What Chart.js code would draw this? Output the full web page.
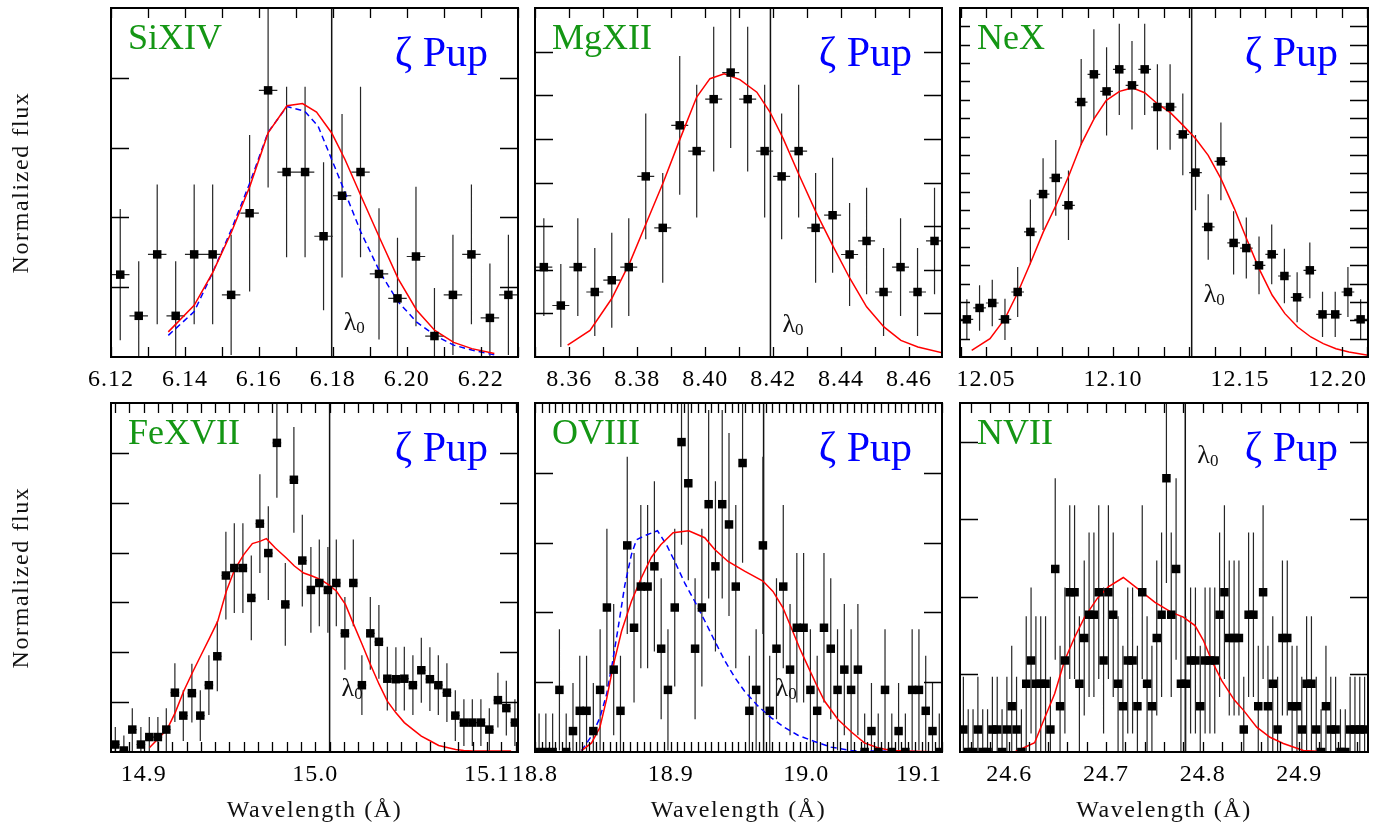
<!DOCTYPE html>
<html>
<head>
<meta charset="utf-8">
<title>zeta Pup line profiles</title>
<script src="https://cdn.jsdelivr.net/npm/chart.js@4.4.1/dist/chart.umd.min.js"></script>
<style>
  html, body { margin: 0; padding: 0; background: #fff; }
  #stage { position: relative; width: 1376px; height: 823px; overflow: hidden; }
  #stage canvas { position: absolute; left: 0; top: 0; }
</style>
</head>
<body>
<div id="stage"></div>
<script>
// Si XIV
const siWave = [6.1225, 6.1275, 6.1325, 6.1375, 6.1425, 6.1475, 6.1525, 6.1575, 6.1625, 6.1675, 6.1725,
  6.1775, 6.1825, 6.1875, 6.1925, 6.1975, 6.2025, 6.2075, 6.2125, 6.2175, 6.2225, 6.2275];
const siFlux = [1.18, 0.59, 1.47, 0.59, 1.47, 1.47, 0.89, 2.06, 3.82, 2.65, 2.65,
  1.73, 2.31, 2.65, 1.19, 0.84, 1.44, 0.30, 0.89, 1.47, 0.56, 0.89];
const siErr = [0.94, 0.78, 1.00, 0.78, 1.00, 1.00, 0.86, 1.12, 1.39, 1.22, 1.22,
  1.06, 1.17, 1.22, 0.94, 0.87, 1.00, 0.69, 0.86, 1.00, 0.78, 0.86];
const siModelWave = [6.1355, 6.1425, 6.1475, 6.1526, 6.1576, 6.1625, 6.1676, 6.1718, 6.1756, 6.1797,
  6.1833, 6.1876, 6.1928, 6.1977, 6.2027, 6.2076, 6.2127, 6.2176, 6.2237];
const siModelFlux = [0.36, 0.74, 1.21, 1.79, 2.45, 3.21, 3.60, 3.63, 3.51, 3.21,
  2.83, 2.31, 1.69, 1.12, 0.67, 0.38, 0.21, 0.12, 0.05];
const siAltWave = [6.1355, 6.1425, 6.1475, 6.1526, 6.1576, 6.1625, 6.1676, 6.1724, 6.1760, 6.1797,
  6.1833, 6.1876, 6.1928, 6.1977, 6.2027, 6.2076, 6.2127, 6.2176, 6.2237];
const siAltFlux = [0.31, 0.65, 1.21, 1.83, 2.50, 3.22, 3.59, 3.52, 3.31, 2.83,
  2.36, 1.79, 1.21, 0.79, 0.50, 0.31, 0.17, 0.10, 0.03];
const siTicks = ['6.12', '6.14', '6.16', '6.18', '6.20', '6.22'];

// Mg XII
const mgWave = [8.3525, 8.3575, 8.3625, 8.3675, 8.3725, 8.3775, 8.3825, 8.3875, 8.3925, 8.3975, 8.4025, 8.4075,
  8.4125, 8.4175, 8.4225, 8.4275, 8.4325, 8.4375, 8.4425, 8.4475, 8.4525, 8.4575, 8.4625, 8.4675];
const mgFlux = [2.06, 1.18, 2.06, 1.49, 1.76, 2.06, 4.14, 2.96, 5.31, 4.72, 5.91, 6.52,
  5.91, 4.72, 4.14, 4.72, 2.96, 3.25, 2.35, 2.66, 1.49, 2.06, 1.49, 2.66];
const mgErr = [1.12, 0.95, 1.12, 1.01, 1.09, 1.12, 1.44, 1.26, 1.59, 1.52, 1.66, 1.73,
  1.66, 1.52, 1.44, 1.52, 1.26, 1.32, 1.18, 1.22, 1.01, 1.12, 1.01, 1.22];
const mgModelWave = [8.3595, 8.3661, 8.3725, 8.3779, 8.3826, 8.3877, 8.3926, 8.3975, 8.4014, 8.4056, 8.4102, 8.4152,
  8.4191, 8.4230, 8.4277, 8.4326, 8.4375, 8.4426, 8.4475, 8.4526, 8.4576, 8.4626, 8.4701];
const mgModelFlux = [0.27, 0.61, 1.34, 2.18, 3.06, 4.01, 5.00, 5.96, 6.38, 6.49, 6.36, 6.07,
  5.61, 5.00, 4.16, 3.32, 2.56, 1.80, 1.15, 0.69, 0.38, 0.23, 0.09];
const mgTicks = ['8.36', '8.38', '8.40', '8.42', '8.44', '8.46'];

// Ne X
const neWave = [12.0425, 12.0475, 12.0525, 12.0575, 12.0625, 12.0675, 12.0725, 12.0775, 12.0825, 12.0875, 12.0925,
  12.0975, 12.1025, 12.1075, 12.1125, 12.1175, 12.1225, 12.1275, 12.1325, 12.1375, 12.1425, 12.1475,
  12.1525, 12.1575, 12.1625, 12.1675, 12.1725, 12.1775, 12.1825, 12.1875, 12.1925, 12.1975];
const neFlux = [2.05, 2.67, 2.94, 2.05, 3.54, 6.81, 8.87, 9.75, 8.26, 13.88, 15.39,
  14.46, 15.66, 14.79, 15.66, 13.61, 13.61, 12.12, 10.04, 7.08, 10.65, 6.21,
  5.93, 4.99, 5.59, 4.41, 3.25, 4.72, 2.32, 2.32, 3.54, 2.05];
const neErr = [1.09, 1.24, 1.27, 1.12, 1.36, 1.76, 1.95, 2.06, 1.89, 2.34, 2.45,
  2.40, 2.48, 2.41, 2.48, 2.33, 2.33, 2.22, 2.05, 1.78, 2.11, 1.72,
  1.66, 1.57, 1.63, 1.48, 1.36, 1.52, 1.23, 1.23, 1.36, 1.09];
const neModelWave = [12.0444, 12.0516, 12.0575, 12.0625, 12.0677, 12.0726, 12.0776, 12.0827, 12.0876, 12.0926,
  12.0974, 12.1026, 12.1076, 12.1125, 12.1175, 12.1226, 12.1276, 12.1325, 12.1375, 12.1425, 12.1478,
  12.1526, 12.1575, 12.1627, 12.1677, 12.1727, 12.1779, 12.1828, 12.1878, 12.1929, 12.2005];
const neModelFlux = [0.36, 1.00, 2.09, 3.50, 5.17, 6.81, 8.26, 9.89, 11.62, 12.98,
  13.97, 14.46, 14.65, 14.39, 13.79, 13.30, 12.61, 11.89, 10.98, 9.71, 8.08,
  6.44, 4.81, 3.36, 2.36, 1.63, 1.09, 0.73, 0.45, 0.27, 0.09];
const neTicks = ['12.05', '12.10', '12.15', '12.20'];

// Fe XVII
const feWave = [14.8835, 14.8885, 14.8934, 14.8984, 14.9033, 14.9083, 14.9132, 14.9182, 14.9231, 14.9281,
  14.9330, 14.9380, 14.9429, 14.9479, 14.9528, 14.9578, 14.9627, 14.9677, 14.9726, 14.9776,
  14.9825, 14.9875, 14.9924, 14.9974, 15.0023, 15.0073, 15.0122, 15.0172, 15.0221, 15.0271,
  15.0320, 15.0370, 15.0419, 15.0469, 15.0518, 15.0568, 15.0617, 15.0667, 15.0716, 15.0766,
  15.0815, 15.0865, 15.0914, 15.0964, 15.1013, 15.1063, 15.1112, 15.1162];
const feFlux = [0.15, 0.03, 0.45, 0.15, 0.30, 0.30, 0.45, 1.19, 0.73, 1.18,
  0.73, 1.34, 1.92, 3.54, 3.69, 3.69, 3.09, 4.58, 3.99, 6.20,
  2.96, 5.46, 3.84, 3.25, 3.39, 3.25, 3.39, 2.38, 3.39, 1.34,
  2.38, 2.21, 1.47, 1.46, 1.47, 1.34, 1.64, 1.46, 1.34, 1.19,
  0.73, 0.59, 0.59, 0.59, 0.45, 1.04, 0.88, 0.59];
const feErr = [0.35, 0.30, 0.43, 0.35, 0.40, 0.40, 0.43, 0.59, 0.51, 0.59,
  0.51, 0.60, 0.70, 0.88, 0.90, 0.90, 0.85, 0.99, 0.94, 1.10,
  0.83, 1.06, 0.92, 0.86, 0.87, 0.86, 0.87, 0.73, 0.87, 0.60,
  0.73, 0.74, 0.64, 0.64, 0.64, 0.60, 0.65, 0.64, 0.60, 0.59,
  0.51, 0.47, 0.47, 0.47, 0.43, 0.55, 0.55, 0.47];
const feModelWave = [14.9035, 14.9136, 14.9184, 14.9233, 14.9285, 14.9334, 14.9383, 14.9431, 14.9482, 14.9530,
  14.9583, 14.9633, 14.9680, 14.9715, 14.9767, 14.9831, 14.9878, 14.9932, 14.9981, 15.0029,
  15.0074, 15.0122, 15.0175, 15.0223, 15.0272, 15.0320, 15.0371, 15.0419, 15.0468, 15.0518,
  15.0569, 15.0617, 15.0670, 15.0718, 15.0767, 15.0817, 15.0864, 15.0918, 15.1140];
const feModelFlux = [0.09, 0.45, 0.79, 1.22, 1.60, 1.94, 2.28, 2.62, 3.23, 3.66,
  3.96, 4.18, 4.23, 4.28, 4.09, 3.89, 3.73, 3.59, 3.53, 3.46,
  3.36, 3.23, 2.96, 2.56, 2.16, 1.76, 1.36, 1.02, 0.79, 0.59,
  0.45, 0.32, 0.22, 0.13, 0.09, 0.05, 0.03, 0.02, 0.02];
const feTicks = ['14.9', '15.0', '15.1'];

// O VIII
const oWave = [18.803, 18.808, 18.813, 18.818, 18.823, 18.828, 18.833, 18.838, 18.843, 18.848,
  18.853, 18.858, 18.863, 18.868, 18.873, 18.878, 18.883, 18.888, 18.893, 18.898,
  18.903, 18.908, 18.913, 18.918, 18.923, 18.928, 18.933, 18.938, 18.943, 18.948,
  18.953, 18.958, 18.963, 18.968, 18.973, 18.978, 18.983, 18.988, 18.993, 18.998,
  19.003, 19.008, 19.013, 19.018, 19.023, 19.028, 19.033, 19.038, 19.043, 19.048,
  19.053, 19.058, 19.063, 19.068, 19.073, 19.078, 19.083, 19.088, 19.093, 19.098];
const oFlux = [0, 0, 0, 0.89, 0, 0.30, 0.59, 0.59, 0.30, 0.89,
  2.07, 1.18, 0.59, 2.96, 1.78, 2.37, 2.37, 2.66, 1.48, 0.89,
  2.07, 4.44, 3.85, 1.48, 2.07, 3.55, 2.66, 3.55, 3.26, 2.37,
  4.14, 0.59, 0.89, 2.96, 0.59, 1.48, 2.37, 1.18, 1.78, 1.78,
  0.89, 0.59, 1.78, 1.48, 0.89, 1.18, 0.89, 1.18, 0, 0.30,
  0, 0.89, 0, 0.30, 0, 0.89, 0.89, 0.59, 0.30, 0];
const oErr = [0.55, 0.55, 0.55, 0.87, 0.55, 0.69, 0.79, 0.79, 0.69, 0.87,
  1.13, 0.94, 0.79, 1.27, 1.07, 1.17, 1.17, 1.22, 1.01, 0.87,
  1.13, 1.47, 1.39, 1.01, 1.13, 1.35, 1.22, 1.35, 1.31, 1.17,
  1.43, 0.79, 0.87, 1.27, 0.79, 1.01, 1.17, 0.94, 1.07, 1.07,
  0.87, 0.79, 1.07, 1.01, 0.87, 0.94, 0.87, 0.94, 0.55, 0.69,
  0.55, 0.87, 0.55, 0.69, 0.55, 0.87, 0.87, 0.79, 0.69, 0.55];
const oModelWave = [18.8343, 18.8417, 18.8478, 18.8527, 18.8576, 18.8638, 18.8711, 18.8785, 18.8858, 18.8927,
  18.9018, 18.9133, 18.9251, 18.9325, 18.9423, 18.9545, 18.9680, 18.9754, 18.9827, 18.9889,
  18.9950, 19.0011, 19.0073, 19.0134, 19.0232, 19.0330, 19.0428, 19.0526, 19.0624, 19.0992];
const oModelFlux = [0.02, 0.13, 0.35, 0.75, 1.23, 1.73, 2.16, 2.50, 2.79, 2.97,
  3.14, 3.17, 3.07, 2.90, 2.73, 2.59, 2.45, 2.30, 2.07, 1.78,
  1.49, 1.23, 0.97, 0.73, 0.47, 0.29, 0.13, 0.06, 0.02, 0.00];
const oAltWave = [18.8343, 18.8417, 18.8478, 18.8527, 18.8569, 18.8613, 18.8662, 18.8711, 18.8748, 18.8809,
  18.8903, 18.8969, 18.9030, 18.9104, 18.9177, 18.9251, 18.9325, 18.9398, 18.9472, 18.9545,
  18.9643, 18.9742, 18.9840, 18.9938, 19.0060, 19.0183, 19.0330, 19.0992];
const oAltFlux = [0.02, 0.23, 0.49, 0.82, 1.26, 1.78, 2.39, 2.83, 3.04, 3.10,
  3.17, 2.97, 2.73, 2.42, 2.16, 1.88, 1.59, 1.31, 1.07, 0.87,
  0.66, 0.49, 0.35, 0.24, 0.15, 0.07, 0.02, 0.00];
const oTicks = ['18.8', '18.9', '19.0', '19.1'];

// N VII
const nWave = [24.5525, 24.5575, 24.5625, 24.5675, 24.5725, 24.5775, 24.5825, 24.5875, 24.5925, 24.5975,
  24.6025, 24.6075, 24.6125, 24.6175, 24.6225, 24.6275, 24.6325, 24.6375, 24.6425, 24.6475,
  24.6525, 24.6575, 24.6625, 24.6675, 24.6725, 24.6775, 24.6825, 24.6875, 24.6925, 24.6975,
  24.7025, 24.7075, 24.7125, 24.7175, 24.7225, 24.7275, 24.7325, 24.7375, 24.7425, 24.7475,
  24.7525, 24.7575, 24.7625, 24.7675, 24.7725, 24.7775, 24.7825, 24.7875, 24.7925, 24.7975,
  24.8025, 24.8075, 24.8125, 24.8175, 24.8225, 24.8275, 24.8325, 24.8375, 24.8425, 24.8475,
  24.8525, 24.8575, 24.8625, 24.8675, 24.8725, 24.8775, 24.8825, 24.8875, 24.8925, 24.8975,
  24.9025, 24.9075, 24.9125, 24.9175, 24.9225, 24.9275, 24.9325, 24.9375, 24.9425, 24.9475,
  24.9525, 24.9575, 24.9625, 24.9675];
const nFlux = [0.29, 0, 0, 0.29, 0, 0, 0.29, 0.29, 0, 0.29,
  0.59, 0.29, 0, 0.88, 1.18, 0.88, 0.88, 0.88, 0.29, 2.36,
  0.59, 1.18, 2.06, 2.06, 0.88, 1.47, 1.77, 1.77, 2.06, 1.18,
  2.06, 1.77, 0.88, 0.59, 1.18, 1.18, 0.59, 2.06, 0.88, 0.59,
  1.47, 1.77, 3.53, 1.77, 2.36, 0.88, 0.88, 1.18, 1.18, 0.59,
  1.18, 1.18, 1.18, 1.77, 2.06, 1.47, 1.47, 1.47, 0.29, 1.77,
  1.77, 0.59, 2.06, 0.59, 0.88, 0.29, 1.47, 1.47, 0.59, 0.59,
  0.29, 0.88, 0.88, 0.29, 0, 0.59, 0.29, 0.29, 0, 0,
  0.29, 0.29, 0.29, 0.29];
const nErr = [0.68, 0.55, 0.55, 0.68, 0.55, 0.55, 0.68, 0.68, 0.55, 0.68,
  0.78, 0.68, 0.55, 0.87, 0.94, 0.87, 0.87, 0.87, 0.68, 1.17,
  0.78, 0.94, 1.12, 1.12, 0.87, 1.00, 1.06, 1.06, 1.12, 0.94,
  1.12, 1.06, 0.87, 0.78, 0.94, 0.94, 0.78, 1.12, 0.87, 0.78,
  1.00, 1.06, 1.35, 1.06, 1.17, 0.87, 0.87, 0.94, 0.94, 0.78,
  0.94, 0.94, 0.94, 1.06, 1.12, 1.00, 1.00, 1.00, 0.68, 1.06,
  1.06, 0.78, 1.12, 0.78, 0.87, 0.68, 1.00, 1.00, 0.78, 0.78,
  0.68, 0.87, 0.87, 0.68, 0.55, 0.78, 0.68, 0.68, 0.55, 0.55,
  0.68, 0.68, 0.68, 0.68];
const nModelWave = [24.6055, 24.6262, 24.6359, 24.6469, 24.6572, 24.6676, 24.6779, 24.6910, 24.7024, 24.7179,
  24.7334, 24.7507, 24.7679, 24.7800, 24.7921, 24.8007, 24.8093, 24.8197, 24.8328, 24.8421,
  24.8559, 24.8697, 24.8834, 24.9041, 24.9317, 24.9610];
const nModelFlux = [0, 0.12, 0.42, 0.75, 1.18, 1.48, 1.74, 1.98, 2.13, 2.25,
  2.10, 1.93, 1.80, 1.74, 1.63, 1.44, 1.18, 0.92, 0.67, 0.54,
  0.32, 0.19, 0.11, 0.02, 0.00, 0.00];
const nTicks = ['24.6', '24.7', '24.8', '24.9'];

const ionNames = ['SiXIV', 'MgXII', 'NeX', 'FeXVII', 'OVIII', 'NVII'];
const restWave = [6.1797, 8.4192, 12.131, 15.0083, 18.9685, 24.782];
const starName = 'ζ Pup';

// frame boxes in page pixels, axis ranges, minor tick step and lambda0 label offset
const panels = [
  { box: [111, 8, 518, 357], xr: [6.12, 6.2301], yMax: 5, minor: 0.01, lamY: 322, yTickL: 18,
    wave: siWave, flux: siFlux, err: siErr, mw: siModelWave, mf: siModelFlux, aw: siAltWave, af: siAltFlux, ticks: siTicks },
  { box: [535, 8, 942, 357], xr: [8.3499, 8.4697], yMax: 8, minor: 0.01, lamY: 324, yTickL: 18,
    wave: mgWave, flux: mgFlux, err: mgErr, mw: mgModelWave, mf: mgModelFlux, ticks: mgTicks },
  { box: [960, 8, 1368, 357], xr: [12.0398, 12.2004], yMax: 19, minor: 0.01, lamY: 294, yTickL: 10,
    wave: neWave, flux: neFlux, err: neErr, mw: neModelWave, mf: neModelFlux, ticks: neTicks },
  { box: [111, 403, 518, 752], xr: [14.881, 15.118], yMax: 7, minor: 0.1 / 12, lamY: 293, yTickL: 18,
    wave: feWave, flux: feFlux, err: feErr, mw: feModelWave, mf: feModelFlux, ticks: feTicks },
  { box: [535, 403, 942, 752], xr: [18.8, 19.1], yMax: 5, minor: 0.005, lamY: 293, yTickL: 18,
    wave: oWave, flux: oFlux, err: oErr, mw: oModelWave, mf: oModelFlux, aw: oAltWave, af: oAltFlux, ticks: oTicks },
  { box: [960, 403, 1368, 752], xr: [24.549, 24.971], yMax: 4.5, minor: 0.02, lamY: 60, yTickL: 18,
    wave: nWave, flux: nFlux, err: nErr, mw: nModelWave, mf: nModelFlux, ticks: nTicks }
];

const SERIF = '"Liberation Serif", "Times New Roman", serif';
const HALF_BIN = 0.0025;

function decoPlugin(p, idx) {
  return {
    id: 'deco' + idx,
    beforeDatasetsDraw(chart) {
      const { ctx, chartArea: a, scales: { x, y } } = chart;
      ctx.save();
      ctx.beginPath();
      ctx.rect(a.left, a.top, a.right - a.left, a.bottom - a.top);
      ctx.clip();
      // rest wavelength
      const lx = x.getPixelForValue(restWave[idx]);
      ctx.strokeStyle = '#111';
      ctx.lineWidth = 1.5;
      ctx.beginPath();
      ctx.moveTo(lx, a.top);
      ctx.lineTo(lx, a.bottom);
      ctx.stroke();
      // error bars
      ctx.strokeStyle = '#262626';
      ctx.lineWidth = 1.2;
      ctx.beginPath();
      p.wave.forEach((w, i) => {
        const px = x.getPixelForValue(w);
        const py = y.getPixelForValue(p.flux[i]);
        ctx.moveTo(px, y.getPixelForValue(p.flux[i] - p.err[i]));
        ctx.lineTo(px, y.getPixelForValue(p.flux[i] + p.err[i]));
        ctx.moveTo(x.getPixelForValue(w - HALF_BIN), py);
        ctx.lineTo(x.getPixelForValue(w + HALF_BIN), py);
      });
      ctx.stroke();
      ctx.restore();
    },
    afterDraw(chart) {
      const { ctx, chartArea: a, scales: { x, y } } = chart;
      ctx.save();
      ctx.strokeStyle = '#000';
      ctx.lineWidth = 1.3;
      ctx.beginPath();
      // minor x ticks, anchored on the first labelled value
      const anchor = parseFloat(p.ticks[0]);
      const k0 = Math.ceil((p.xr[0] - anchor) / p.minor - 1e-6);
      const k1 = Math.floor((p.xr[1] - anchor) / p.minor + 1e-6);
      for (let k = k0; k <= k1; k++) {
        const px = Math.round(x.getPixelForValue(anchor + k * p.minor)) + 0.5;
        ctx.moveTo(px, a.top); ctx.lineTo(px, a.top + 10);
        ctx.moveTo(px, a.bottom); ctx.lineTo(px, a.bottom - 10);
      }
      for (let v = 1; v < p.yMax - 0.01; v++) {
        const py = Math.round(y.getPixelForValue(v)) + 0.5;
        ctx.moveTo(a.left, py); ctx.lineTo(a.left + p.yTickL, py);
        ctx.moveTo(a.right, py); ctx.lineTo(a.right - 18, py);
      }
      ctx.stroke();
      ctx.lineWidth = 2;
      ctx.strokeRect(a.left, a.top, a.right - a.left, a.bottom - a.top);

      // tick labels
      ctx.fillStyle = '#000';
      ctx.font = '24px ' + SERIF;
      ctx.letterSpacing = '1px';
      ctx.textBaseline = 'alphabetic';
      p.ticks.forEach(t => {
        const v = parseFloat(t);
        const atEnd = Math.abs(v - p.xr[1]) < 0.01 * (p.xr[1] - p.xr[0]);
        ctx.textAlign = atEnd ? 'right' : 'center';
        ctx.fillText(t, x.getPixelForValue(v), a.bottom + 29);
      });

      // ion and star labels
      ctx.letterSpacing = '0px';
      ctx.textAlign = 'left';
      ctx.fillStyle = '#149614';
      ctx.font = '36px ' + SERIF;
      ctx.fillText(ionNames[idx], a.left + 17, a.top + 41);
      ctx.textAlign = 'right';
      ctx.fillStyle = '#0000ff';
      ctx.font = '42px ' + SERIF;
      ctx.fillText(starName, a.right - 30, a.top + 58);

      // lambda_0
      const lx = x.getPixelForValue(restWave[idx]);
      ctx.textAlign = 'left';
      ctx.fillStyle = '#111';
      ctx.font = '26px ' + SERIF;
      ctx.fillText('λ', lx + 12, a.top + p.lamY);
      const lw = ctx.measureText('λ').width;
      ctx.font = '17px ' + SERIF;
      ctx.fillText('0', lx + 12 + lw, a.top + p.lamY + 3);

      // axis titles
      ctx.font = '24px ' + SERIF;
      ctx.letterSpacing = '1.6px';
      if (idx === 0 || idx === 3) {
        ctx.save();
        ctx.translate(28, (a.top + a.bottom) / 2);
        ctx.rotate(-Math.PI / 2);
        ctx.textAlign = 'center';
        ctx.fillText('Normalized flux', 0, 0);
        ctx.restore();
      }
      if (idx >= 3) {
        ctx.textAlign = 'center';
        ctx.fillText('Wavelength (Å)', (a.left + a.right) / 2, 817);
      }
      ctx.restore();
    }
  };
}

const stage = document.getElementById('stage');
panels.forEach((p, idx) => {
  const canvas = document.createElement('canvas');
  canvas.width = 1376;
  canvas.height = 823;
  stage.appendChild(canvas);

  const datasets = [{
    data: p.wave.map((w, i) => ({ x: w, y: p.flux[i] })),
    pointStyle: 'rect',
    pointRadius: 6,
    backgroundColor: '#000',
    borderWidth: 0,
    showLine: false,
    clip: 0
  }, {
    data: p.mw.map((w, i) => ({ x: w, y: p.mf[i] })),
    showLine: true,
    borderColor: '#ff0000',
    borderWidth: 1.5,
    pointRadius: 0,
    tension: 0,
    clip: 0
  }];
  if (p.aw) {
    datasets.push({
      data: p.aw.map((w, i) => ({ x: w, y: p.af[i] })),
      showLine: true,
      borderColor: '#0000ff',
      borderWidth: 1.5,
      borderDash: [6, 4],
      pointRadius: 0,
      tension: 0,
      clip: 0
    });
  }

  const [L, T, R, B] = p.box;
  new Chart(canvas, {
    type: 'scatter',
    data: { datasets },
    options: {
      responsive: false,
      animation: false,
      devicePixelRatio: 1,
      events: [],
      layout: { padding: { left: L, top: T, right: 1376 - R, bottom: 823 - B } },
      scales: {
        x: { type: 'linear', min: p.xr[0], max: p.xr[1], display: false },
        y: { type: 'linear', min: 0, max: p.yMax, display: false }
      },
      plugins: { legend: { display: false }, tooltip: { enabled: false } }
    },
    plugins: [decoPlugin(p, idx)]
  });
});
</script>
</body>
</html>
